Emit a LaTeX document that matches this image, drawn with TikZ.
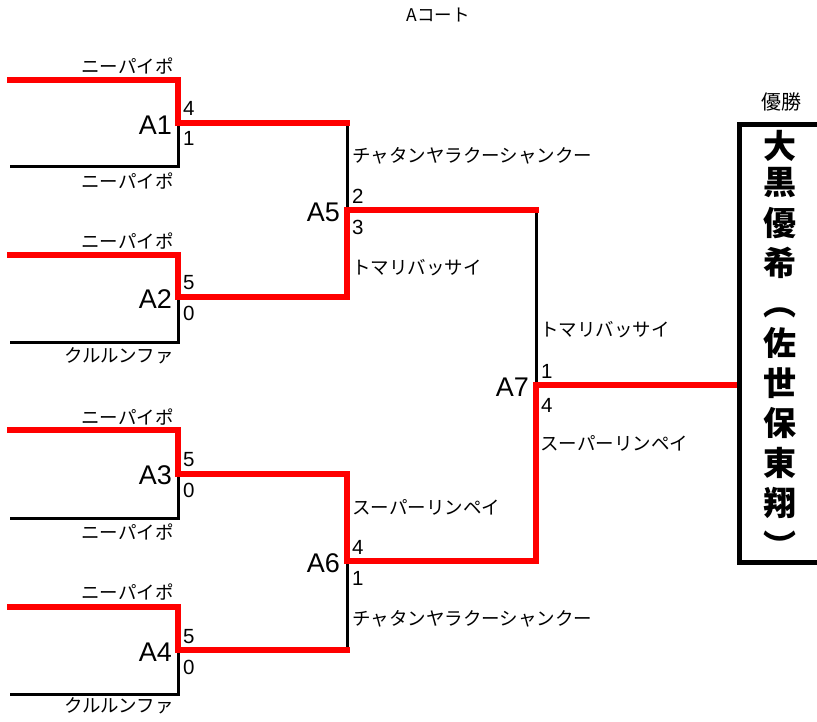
\documentclass[tikz,border=0pt]{standalone}
\usepackage{fontspec}
\setmainfont{Liberation Sans}
\newfontfamily\cjk{Noto Sans CJK JP}
\begin{document}
\begin{tikzpicture}[x=1pt,y=-1pt,
  redln/.style={draw=red,line width=6pt,line join=miter,line cap=rect},
  blkln/.style={draw=black,line width=3pt,line join=miter},
  boxln/.style={draw=black,line width=5pt,line join=miter},
  nm/.style={inner sep=0pt,font=\cjk\fontsize{18.5}{20}\selectfont},
  sc/.style={inner sep=0pt,anchor=west,font=\fontsize{20.5}{22}\selectfont},
  ml/.style={inner sep=0pt,anchor=east,font=\fontsize{27}{30}\selectfont},
  win/.style={inner sep=0pt,font=\cjk\bfseries\fontsize{33}{36}\selectfont}]
\useasboundingbox (0,0) rectangle (817,722);
% coordinates
\coordinate (s1) at (10,80);  \coordinate (s1c) at (178,80);
\coordinate (s2) at (10,167); \coordinate (s2c) at (178,167);
\coordinate (s3) at (10,255); \coordinate (s3c) at (178,255);
\coordinate (s4) at (10,342); \coordinate (s4c) at (178,342);
\coordinate (s5) at (10,430); \coordinate (s5c) at (178,430);
\coordinate (s6) at (10,518); \coordinate (s6c) at (178,518);
\coordinate (s7) at (10,607); \coordinate (s7c) at (178,607);
\coordinate (s8) at (10,694); \coordinate (s8c) at (178,694);
\coordinate (j1) at (178,123); \coordinate (j1e) at (347,123);
\coordinate (j2) at (178,297); \coordinate (j2e) at (347,297);
\coordinate (j3) at (178,474); \coordinate (j3e) at (347,474);
\coordinate (j4) at (178,650); \coordinate (j4e) at (347,650);
\coordinate (j5) at (347,210); \coordinate (j5e) at (536,210);
\coordinate (j6) at (347,561); \coordinate (j6e) at (536,561);
\coordinate (j7) at (536,385); \coordinate (j7e) at (739,385);
\coordinate (bt) at (817,125); \coordinate (btl) at (739,125);
\coordinate (bb) at (817,562); \coordinate (bbl) at (739,562);
% black losers
\draw[blkln] (s2) -- (s2c) -- (j1);
\draw[blkln] (s4) -- (s4c) -- (j2);
\draw[blkln] (s6) -- (s6c) -- (j3);
\draw[blkln] (s8) -- (s8c) -- (j4);
\draw[blkln] (j1e) -- (j5);
\draw[blkln] (j4e) -- (j6);
\draw[blkln] (j5e) -- (j7);
% red winners
\draw[redln] (s1) -- (s1c) -- (j1) -- (j1e);
\draw[redln] (s3) -- (s3c) -- (j2) -- (j2e) -- (j5) -- (j5e);
\draw[redln] (s5) -- (s5c) -- (j3) -- (j3e) -- (j6) -- (j6e) -- (j7) -- (j7e);
\draw[redln] (s7) -- (s7c) -- (j4) -- (j4e);
% winner box
\draw[boxln] (bt) -- (btl) -- (bbl) -- (bb);
% title
\node[nm,font=\cjk\fontsize{17.5}{19}\selectfont] (title) at (438,15) {Aコート};
\node[nm,font=\cjk\fontsize{20}{22}\selectfont] (yusho) at (781,102) {優勝};
% first round names
\node[nm,anchor=east] (n1) at (174,66) {ニーパイポ};
\node[nm,anchor=east] (n2) at (174,181) {ニーパイポ};
\node[nm,anchor=east] (n3) at (174,241) {ニーパイポ};
\node[nm,anchor=east] (n4) at (174,356) {クルルンファ};
\node[nm,anchor=east] (n5) at (174,417) {ニーパイポ};
\node[nm,anchor=east] (n6) at (174,532) {ニーパイポ};
\node[nm,anchor=east] (n7) at (174,592) {ニーパイポ};
\node[nm,anchor=east] (n8) at (174,706) {クルルンファ};
% match labels
\node[ml] (A1) at (172,125) {A1};
\node[ml] (A2) at (172,299) {A2};
\node[ml] (A3) at (172,475) {A3};
\node[ml] (A4) at (172,652) {A4};
\node[ml] (A5) at (340,212) {A5};
\node[ml] (A6) at (340,563) {A6};
\node[ml] (A7) at (529,387) {A7};
% scores
\node[sc] (c1a) at (183,108) {4};
\node[sc] (c1b) at (183,138) {1};
\node[sc] (c2a) at (183,283) {5};
\node[sc] (c2b) at (183,313) {0};
\node[sc] (c3a) at (183,460) {5};
\node[sc] (c3b) at (183,490) {0};
\node[sc] (c4a) at (183,637) {5};
\node[sc] (c4b) at (183,667) {0};
\node[sc] (c5a) at (352,196) {2};
\node[sc] (c5b) at (352,227) {3};
\node[sc] (c6a) at (352,547) {4};
\node[sc] (c6b) at (352,578) {1};
\node[sc] (c7a) at (541,371) {1};
\node[sc] (c7b) at (541,405) {4};
% second round names
\node[nm,anchor=west] (m5a) at (352,156) {チャタンヤラクーシャンクー};
\node[nm,anchor=west] (m5b) at (352,268) {トマリバッサイ};
\node[nm,anchor=west] (m6a) at (352,507) {スーパーリンペイ};
\node[nm,anchor=west] (m6b) at (352,619) {チャタンヤラクーシャンクー};
\node[nm,anchor=west] (m7a) at (540,330) {トマリバッサイ};
\node[nm,anchor=west] (m7b) at (540,443) {スーパーリンペイ};
% champion
\foreach \ch/\yy [count=\i from 0] in {大/146,黒/183,優/223,希/263,︵/313,佐/343,世/383,保/423,東/463,翔/503,︶/545}
  \node[win] (w\i) at (780,\yy) {\ch};
\end{tikzpicture}
\end{document}
